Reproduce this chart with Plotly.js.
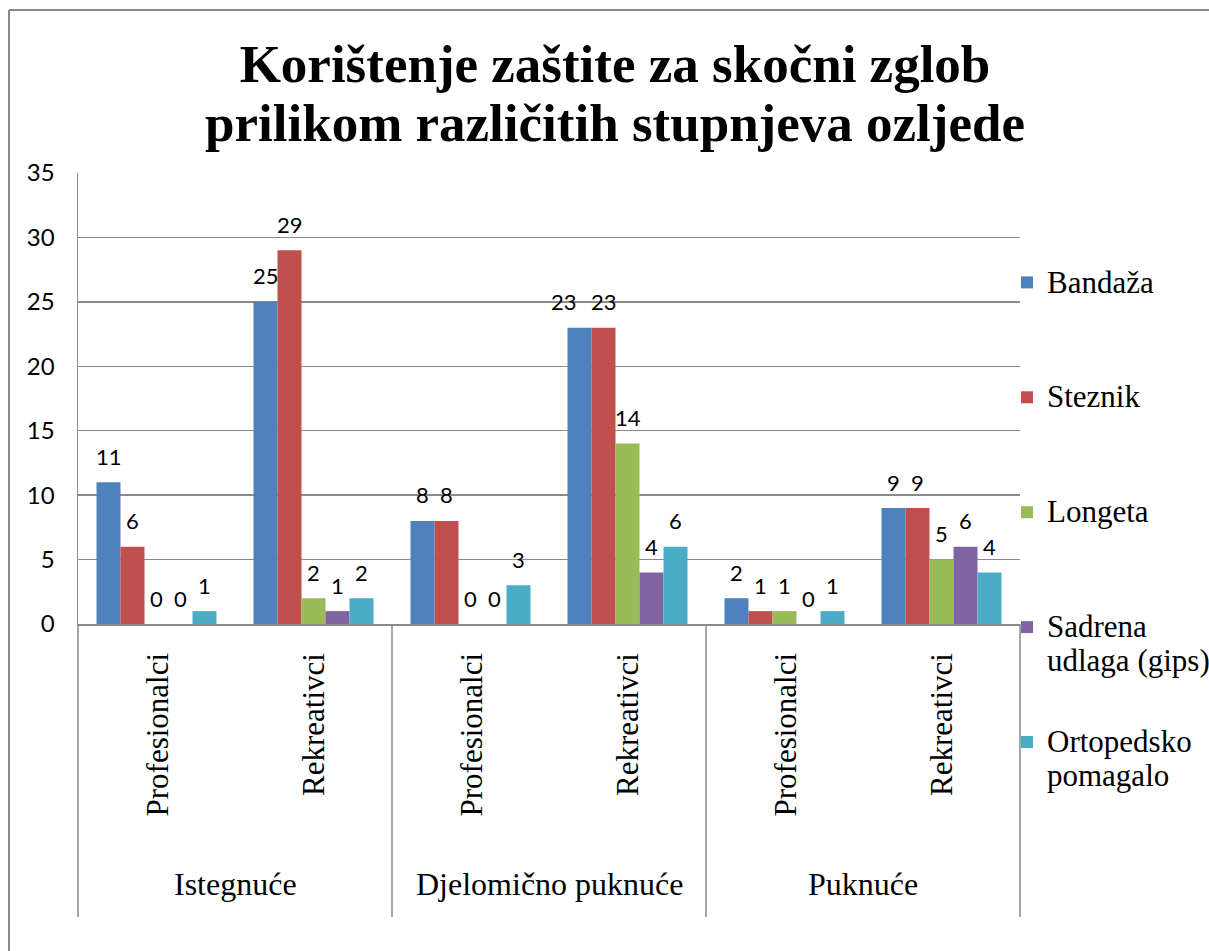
<!DOCTYPE html>
<html><head><meta charset="utf-8">
<script src="https://cdn.plot.ly/plotly-3.0.1.min.js"></script>
<style>html,body{margin:0;padding:0;background:#fff}</style>
</head><body><div id="chart" style="width:1209px;height:951px"></div>
<script>
const injuryGroups = ['Istegnuće', 'Djelomično puknuće', 'Puknuće'];
const athleteTypes = ['Profesionalci', 'Rekreativci'];
const seriesNames = ['Bandaža', 'Steznik', 'Longeta', 'Sadrena udlaga (gips)', 'Ortopedsko pomagalo'];
const legendLines = [['Bandaža'], ['Steznik'], ['Longeta'], ['Sadrena', 'udlaga (gips)'], ['Ortopedsko', 'pomagalo']];
const bandaza    = [11, 25, 8, 23, 2, 9];
const steznik    = [6, 29, 8, 23, 1, 9];
const longeta    = [0, 2, 0, 14, 1, 5];
const sadrena    = [0, 1, 0, 4, 0, 6];
const ortopedsko = [1, 2, 3, 6, 1, 4];
const yTicks = [0, 5, 10, 15, 20, 25, 30, 35];
const titleLines = ['Korištenje zaštite za skočni zglob', 'prilikom različitih stupnjeva ozljede'];

const seriesValues = [bandaza, steznik, longeta, sadrena, ortopedsko];
const colors = ['#4F81BD', '#C0504D', '#9BBB59', '#8064A2', '#4BACC6'];
// label collision nudge (px), like the original's automatic label placement
const labelNudge = {'0-3': -16};

const W = 1209, H = 951;
const M = {l: 78, r: 189, t: 173, b: 327, autoexpand: false};
const plotW = W - M.l - M.r, plotH = H - M.t - M.b;
const pxX = px => (px - M.l) / plotW;
const pxY = py => (H - M.b - py) / plotH;

const categories = [];
injuryGroups.forEach(g => athleteTypes.forEach(a => categories.push(g + ' – ' + a)));

const bargap = 0.2357;
const barW = plotW / categories.length * (1 - bargap) / seriesNames.length;

const serif = 'Liberation Serif, Times New Roman, serif';
const sans = 'Lato, Liberation Sans, sans-serif';
const grey = '#8a8a8a';

const legendName = lines => {
  const spans = lines.map(t => '<span style="font-size:31px">' + t + '</span>');
  if (spans.length < 2) spans.push('\u00a0');
  return spans.join('<br>');
};

const traces = seriesNames.map((name, s) => ({
  type: 'bar',
  name: legendName(legendLines[s]),
  legendgroup: name,
  x: categories,
  y: seriesValues[s],
  marker: {color: colors[s]},
  hoverinfo: 'skip'
}));

const annotations = [];
seriesValues.forEach((vals, s) => {
  vals.forEach((v, j) => {
    annotations.push({
      x: categories[j], y: v, xref: 'x', yref: 'y',
      text: String(v), showarrow: false,
      xshift: (s - (seriesNames.length - 1) / 2) * barW + (labelNudge[s + '-' + j] || 0), yshift: 26,
      xanchor: 'center', yanchor: 'middle',
      font: {family: sans, size: 22, color: '#000'}
    });
  });
});
categories.forEach((c, j) => {
  annotations.push({
    x: c, xref: 'x', y: 0, yref: 'paper', yshift: -27,
    text: athleteTypes[j % athleteTypes.length], textangle: -90,
    showarrow: false, xanchor: 'center', yanchor: 'top',
    font: {family: serif, size: 31, color: '#000'}
  });
});
injuryGroups.forEach((g, k) => {
  annotations.push({
    x: (2 * k + 1) / (2 * injuryGroups.length), xref: 'paper',
    y: pxY(884), yref: 'paper',
    text: g, showarrow: false, xanchor: 'center', yanchor: 'middle',
    font: {family: serif, size: 32, color: '#000'}
  });
});

const shapes = [];
for (let k = 0; k <= injuryGroups.length; k++) {
  shapes.push({type: 'line', xref: 'paper', yref: 'paper',
    x0: k / injuryGroups.length, x1: k / injuryGroups.length, y0: 0, y1: pxY(917),
    line: {color: grey, width: 1.5}});
}
// outer chart frame (top and left edges)
shapes.push({type: 'line', xref: 'paper', yref: 'paper', x0: pxX(9), x1: pxX(W + 10), y0: pxY(10), y1: pxY(10), line: {color: grey, width: 2}});
shapes.push({type: 'line', xref: 'paper', yref: 'paper', x0: pxX(9), x1: pxX(9), y0: pxY(10), y1: pxY(H + 10), line: {color: grey, width: 2}});

const layout = {
  width: W, height: H,
  margin: M,
  paper_bgcolor: '#fff', plot_bgcolor: '#fff',
  font: {family: serif, color: '#000'},
  title: {
    text: titleLines.map(t => '<span style="font-size:53px">' + t + '</span>').join('<br>'),
    xref: 'container', yref: 'container', x: 615 / W, xanchor: 'center',
    y: 1 - 82 / H, yanchor: 'top',
    font: {family: serif, size: 45, weight: 'bold', color: '#000'}
  },
  barmode: 'group', bargap: bargap, bargroupgap: 0,
  xaxis: {type: 'category', showticklabels: false, ticks: '', showgrid: false,
    showline: true, linecolor: grey, linewidth: 1.5, zeroline: false, fixedrange: true},
  yaxis: {range: [0, 35], tickvals: yTicks, ticktext: yTicks.map(String), ticks: '',
    showgrid: true, gridcolor: grey, gridwidth: 1.5, showline: true, linecolor: grey, linewidth: 1.5,
    zeroline: false, ticklabelstandoff: 17, tickfont: {family: sans, size: 24, color: '#000'}, fixedrange: true},
  showlegend: true,
  legend: {x: pxX(1007), xanchor: 'left', y: pxY(259), yanchor: 'top', valign: 'top',
    traceorder: 'grouped', tracegroupgap: 44.3, bgcolor: 'rgba(0,0,0,0)', maxheight: 900,
    font: {family: serif, size: 26, color: '#000'}},
  annotations: annotations,
  shapes: shapes
};

Plotly.newPlot('chart', traces, layout, {displayModeBar: false, staticPlot: true});
</script>
</body></html>
